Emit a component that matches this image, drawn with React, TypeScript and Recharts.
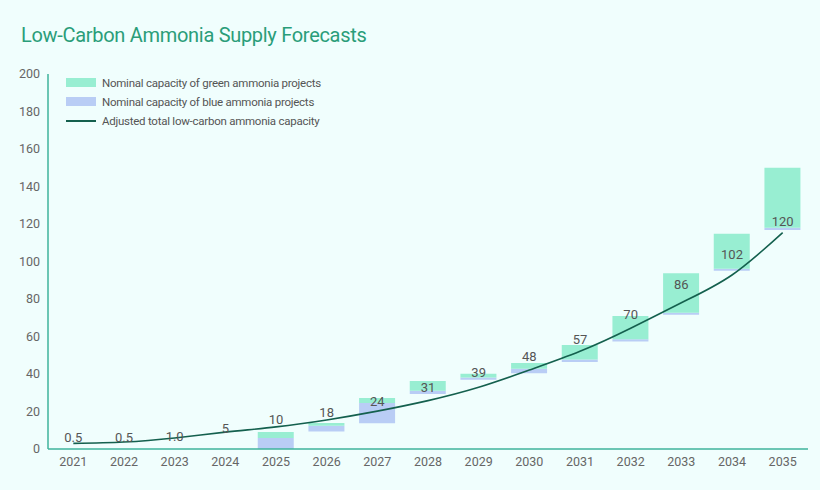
import React from 'react';
import { Bar, ComposedChart, LabelList, Line, XAxis, YAxis } from 'recharts';

const years = ['2021', '2022', '2023', '2024', '2025', '2026', '2027', '2028', '2029', '2030', '2031', '2032', '2033', '2034', '2035'];
// floating bars: invisible base, then blue and green increments
const baseOffset = [0, 0, 0, 0, 0, 9.4, 13.7, 29.3, 37, 40.4, 46.4, 57.3, 71.6, 95.1, 116.8];
const blueAdded = [0, 0, 0, 0, 5.9, 3.0, 10.8, 1.8, 1.2, 2.4, 1.4, 1.2, 1.1, 1.1, 1.2];
const greenAdded = [0, 0, 0, 0, 3.2, 1.5, 2.7, 5.2, 2.0, 3.1, 7.7, 12.5, 21.0, 18.6, 32.0];
const adjustedTotal = [3.0, 3.7, 5.9, 9.0, 11.8, 15.5, 20.2, 25.8, 32.9, 42.1, 52.1, 64.4, 78.0, 92.8, 115.4];
const labelValues = [0.5, 0.5, 1.0, 5, 10, 18, 24, 31, 39, 48, 57, 70, 86, 102, 120];
const labelTexts = ['0.5', '0.5', '1.0', '5', '10', '18', '24', '31', '39', '48', '57', '70', '86', '102', '120'];
const yTicks = [0, 20, 40, 60, 80, 100, 120, 140, 160, 180, 200];

const GREEN = '#98eed2';
const BLUE = '#b9cdf5';
const LINE = '#14604e';
const AXIS = '#3fb39b';
const FONT = 'Roboto, "Noto Sans", sans-serif';

const data = years.map((year, i) => ({
  year,
  base: baseOffset[i],
  blue: blueAdded[i],
  green: greenAdded[i],
  adjusted: adjustedTotal[i],
  label: labelValues[i],
}));

const legendItems = [
  { name: 'Nominal capacity of green ammonia projects', color: GREEN, kind: 'rect' },
  { name: 'Nominal capacity of blue ammonia projects', color: BLUE, kind: 'rect' },
  { name: 'Adjusted total low-carbon ammonia capacity', color: LINE, kind: 'line' },
];

const renderValueLabel = (props: any) => {
  const { x, y, index } = props;
  // small values sit a bit higher so they clear the curve
  const lift = labelValues[index] < 15 ? 11 : 3;
  return (
    <text
      x={x}
      y={y - lift}
      textAnchor="middle"
      dominantBaseline="central"
      fill="#555"
      fontSize={13}
      fontFamily={FONT}
    >
      {labelTexts[index]}
    </text>
  );
};

export default function App() {
  return (
    <div
      style={{
        position: 'absolute',
        left: 0,
        top: 0,
        width: 820,
        height: 490,
        background: '#f0fefd',
        fontFamily: FONT,
      }}
    >
      <div
        style={{
          position: 'absolute',
          left: 21,
          top: 23,
          fontSize: 20,
          color: '#2a9d79',
          letterSpacing: -0.3,
        }}
      >
        Low-Carbon Ammonia Supply Forecasts
      </div>
      <div
        style={{
          position: 'absolute',
          left: 66,
          top: 73,
          fontSize: 11.5,
          letterSpacing: -0.25,
          color: '#555',
          zIndex: 2,
        }}
      >
        {legendItems.map((item) => (
          <div key={item.name} style={{ display: 'flex', alignItems: 'center', height: 19 }}>
            <span
              style={{
                width: 30,
                height: item.kind === 'rect' ? 9 : 2,
                background: item.color,
                marginRight: 6,
              }}
            />
            <span>{item.name}</span>
          </div>
        ))}
      </div>
      <ComposedChart
        width={820}
        height={490}
        data={data}
        margin={{ top: 74, right: 12, left: 0, bottom: 11 }}
        barCategoryGap="14%"
      >
        <XAxis
          dataKey="year"
          height={30}
          interval={0}
          tickLine={false}
          axisLine={{ stroke: AXIS, strokeWidth: 1.5 }}
          tick={{ fill: '#666', fontSize: 12.5, fontFamily: FONT }}
        />
        <YAxis
          width={48}
          domain={[0, 200]}
          ticks={yTicks}
          tickLine={false}
          axisLine={{ stroke: AXIS, strokeWidth: 1.5 }}
          tick={{ fill: '#666', fontSize: 12.5, fontFamily: FONT }}
        />
        <Bar dataKey="base" stackId="cap" fill="transparent" isAnimationActive={false} />
        <Bar dataKey="blue" stackId="cap" fill={BLUE} isAnimationActive={false} />
        <Bar dataKey="green" stackId="cap" fill={GREEN} isAnimationActive={false} />
        <Line
          type="natural"
          dataKey="adjusted"
          stroke={LINE}
          strokeWidth={1.6}
          dot={false}
          activeDot={false}
          isAnimationActive={false}
        />
        <Line
          dataKey="label"
          stroke="none"
          dot={false}
          activeDot={false}
          isAnimationActive={false}
        >
          <LabelList dataKey="label" content={renderValueLabel} />
        </Line>
      </ComposedChart>
    </div>
  );
}
